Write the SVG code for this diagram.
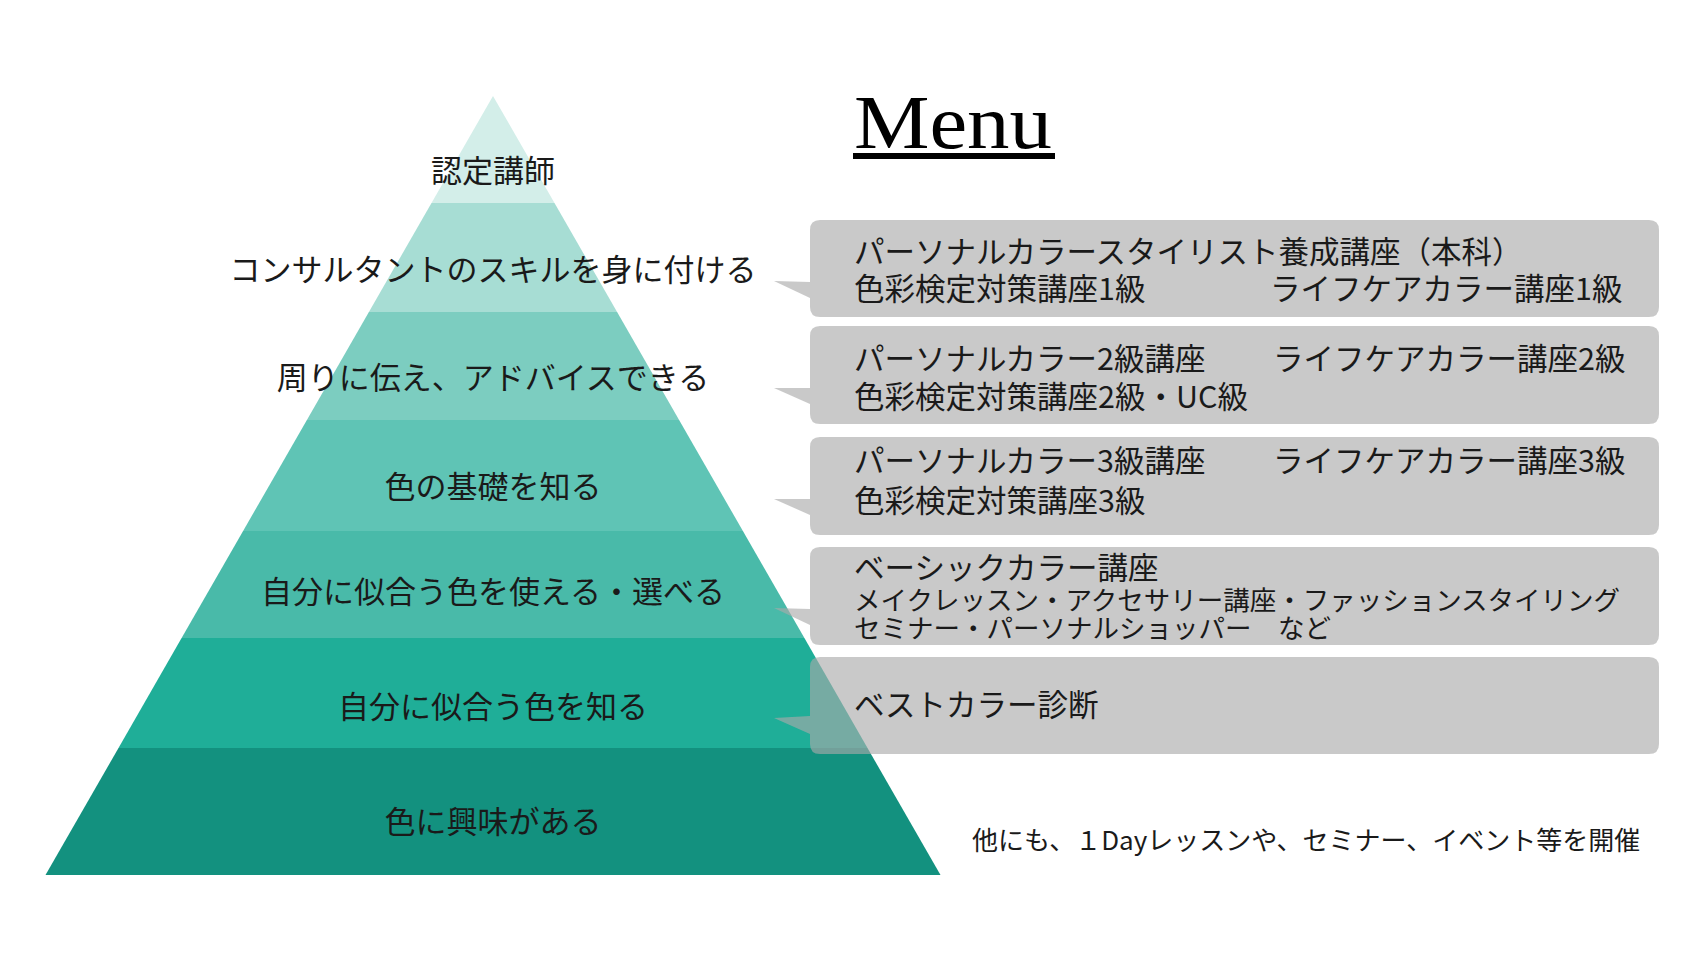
<svg xmlns="http://www.w3.org/2000/svg" width="1706" height="960" viewBox="0 0 1706 960">
<style>
.lbl{font-family:"Noto Sans CJK JP","Noto Sans",sans-serif;font-size:31px;fill:#1a1a1a;text-anchor:middle}
.bt{font-family:"Noto Sans CJK JP","Noto Sans",sans-serif;font-size:30.5px;fill:#1a1a1a}
.bs{font-family:"Noto Sans CJK JP","Noto Sans",sans-serif;font-size:26.5px;fill:#1a1a1a}
.call{fill:#a9a9a9;fill-opacity:0.63}
</style>
<rect width="1706" height="960" fill="#ffffff"/>
<g id="pyramid">
  <g id="level7"><polygon points="118.5,748 867.5,748 940.5,875 45.5,875" fill="#13917f"/><text class="lbl" x="493" y="833">色に興味がある</text></g>
  <g id="level6"><polygon points="181.6,638 804.4,638 867.5,748 118.5,748" fill="#1fae98"/><text class="lbl" x="493" y="718">自分に似合う色を知る</text></g>
  <g id="level5"><polygon points="243.1,531 742.9,531 804.4,638 181.6,638" fill="#49baa9"/><text class="lbl" x="493" y="603">自分に似合う色を使える・選べる</text></g>
  <g id="level4"><polygon points="306.9,420 679.1,420 742.9,531 243.1,531" fill="#5fc4b5"/><text class="lbl" x="493" y="498">色の基礎を知る</text></g>
  <g id="level3"><polygon points="368.9,312 617.1,312 679.1,420 306.9,420" fill="#7ccdc0"/><text class="lbl" x="493" y="389">周りに伝え、アドバイスできる</text></g>
  <g id="level2"><polygon points="431.5,203 554.5,203 617.1,312 368.9,312" fill="#a7ddd4"/><text class="lbl" x="493" y="281">コンサルタントのスキルを身に付ける</text></g>
  <g id="level1"><polygon points="493,96 554.5,203 431.5,203" fill="#d3eee9"/><text class="lbl" x="493" y="182">認定講師</text></g>
</g>
<g id="title">
  <text x="854" y="148" font-family="'Liberation Serif',serif" font-size="77" fill="#000" textLength="198" lengthAdjust="spacingAndGlyphs">Menu</text>
  <rect x="853" y="153" width="202" height="6" fill="#000"/>
</g>
<g id="connectors"></g>
<g id="box1">
  <path class="call" d="M820,220 H1649 Q1659,220 1659,230 V307 Q1659,317 1649,317 H820 Q810,317 810,307 V298 L774,281 L810,282 V230 Q810,220 820,220 Z"/>
  <text class="bt" x="854" y="263">パーソナルカラースタイリスト養成講座（本科）</text>
  <text class="bt" x="854" y="300">色彩検定対策講座1級</text>
  <text class="bt" x="1270" y="300">ライフケアカラー講座1級</text>
</g>
<g id="box2">
  <path class="call" d="M820,326 H1649 Q1659,326 1659,336 V414 Q1659,424 1649,424 H820 Q810,424 810,414 V404 L774,388 L810,388 V336 Q810,326 820,326 Z"/>
  <text class="bt" x="854" y="370">パーソナルカラー2級講座</text>
  <text class="bt" x="1273" y="370">ライフケアカラー講座2級</text>
  <text class="bt" x="854" y="408">色彩検定対策講座2級・UC級</text>
</g>
<g id="box3">
  <path class="call" d="M820,437 H1649 Q1659,437 1659,447 V525 Q1659,535 1649,535 H820 Q810,535 810,525 V515 L774,499 L810,499 V447 Q810,437 820,437 Z"/>
  <text class="bt" x="854" y="472">パーソナルカラー3級講座</text>
  <text class="bt" x="1273" y="472">ライフケアカラー講座3級</text>
  <text class="bt" x="854" y="512">色彩検定対策講座3級</text>
</g>
<g id="box4">
  <path class="call" d="M820,547 H1649 Q1659,547 1659,557 V635 Q1659,645 1649,645 H820 Q810,645 810,635 V625 L774,608 L810,609 V557 Q810,547 820,547 Z"/>
  <text class="bt" x="854" y="579">ベーシックカラー講座</text>
  <text class="bs" x="854" y="610">メイクレッスン・アクセサリー講座・ファッションスタイリング</text>
  <text class="bs" x="854" y="638">セミナー・パーソナルショッパー　など</text>
</g>
<g id="box5">
  <path class="call" d="M820,657 H1649 Q1659,657 1659,667 V744 Q1659,754 1649,754 H820 Q810,754 810,744 V734 L774,718 L810,716 V667 Q810,657 820,657 Z"/>
  <text class="bt" x="854" y="716">ベストカラー診断</text>
</g>
<g id="note">
  <text x="972" y="850" font-family="'Noto Sans CJK JP','Noto Sans',sans-serif" font-size="26" fill="#1a1a1a">他にも、１Dayレッスンや、セミナー、イベント等を開催</text>
</g>
</svg>
